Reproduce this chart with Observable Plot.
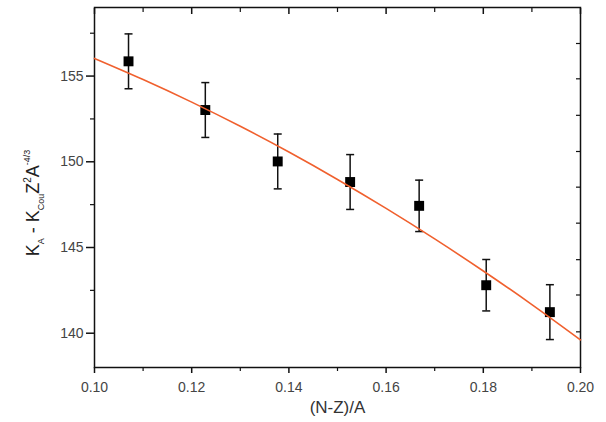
<!DOCTYPE html>
<html>
<head>
<meta charset="utf-8">
<script src="https://cdn.jsdelivr.net/npm/d3@7"></script>
<script src="https://cdn.jsdelivr.net/npm/@observablehq/plot@0.6"></script>
<style>
  html, body { margin: 0; padding: 0; background: #fff; }
  #chart svg { display: block; }
</style>
</head>
<body>
<div id="chart"></div>
<script>
// Data
const asym = [0.1070, 0.1228, 0.1377, 0.1526, 0.1668, 0.1806, 0.1937];
const kVal = [155.86, 153.02, 150.02, 148.82, 147.43, 142.80, 141.23];
const kErr = [1.6, 1.6, 1.6, 1.6, 1.5, 1.5, 1.6];

const fitX = [0.10, 0.11, 0.12, 0.13, 0.14, 0.15, 0.16, 0.17, 0.18, 0.19, 0.20];
const fitY = [156.03, 154.80, 153.48, 152.07, 150.57, 148.97, 147.28, 145.50, 143.63, 141.67, 139.61];

const xMajor = [0.10, 0.12, 0.14, 0.16, 0.18, 0.20];
const xMinor = [0.11, 0.13, 0.15, 0.17, 0.19];
const yMajor = [140, 145, 150, 155];
const yMinor = [142.5, 147.5, 152.5, 157.5];
const yRight = [140.08, 142.23, 144.29, 146.42, 148.52, 150.60, 152.71, 154.84, 156.90];

const xTitle = "(N-Z)/A";

const idx = d3.range(asym.length);
const fitIdx = d3.range(fitX.length);

const cap = { draw(ctx) { ctx.moveTo(-4, 0); ctx.lineTo(4, 0); } };
const blank = () => "";
const font = "Liberation Sans, Arial, Helvetica, sans-serif";

const chart = Plot.plot({
  width: 606,
  height: 422,
  marginLeft: 94,
  marginRight: 26,
  marginTop: 7,
  marginBottom: 55,
  style: { fontFamily: font, background: "#fff", color: "#000" },
  x: { domain: [0.10, 0.20], label: null },
  y: { domain: [138, 159], label: null },
  marks: [
    Plot.frame({ stroke: "#111", strokeWidth: 1.5 }),
    // bottom axis
    Plot.axisX(xMajor, { anchor: "bottom", tickSize: 6, tickPadding: 9, tickFormat: d3.format(".2f"),
      fontSize: 14, fill: "#444", stroke: "#111", strokeWidth: 1.5, label: null }),
    Plot.axisX(xMinor, { anchor: "bottom", tickSize: 4, tickFormat: blank, stroke: "#111", strokeWidth: 1.2, label: null }),
    // top axis (inward ticks)
    Plot.axisX(xMajor, { anchor: "top", tickSize: -6, tickFormat: blank, stroke: "#111", strokeWidth: 1.5, label: null }),
    Plot.axisX(xMinor, { anchor: "top", tickSize: -4, tickFormat: blank, stroke: "#111", strokeWidth: 1.2, label: null }),
    // left axis
    Plot.axisY(yMajor, { anchor: "left", tickSize: 8, tickPadding: 3, fontSize: 14, fill: "#444",
      stroke: "#111", strokeWidth: 1.5, label: null }),
    Plot.axisY(yMinor, { anchor: "left", tickSize: 4, tickFormat: blank, stroke: "#111", strokeWidth: 1.2, label: null }),
    // right axis (inward ticks)
    Plot.axisY(yRight, { anchor: "right", tickSize: -5, tickFormat: blank, stroke: "#111", strokeWidth: 1.2, label: null }),
    // error bars
    Plot.ruleX(idx, { x: i => asym[i], y1: i => kVal[i] - kErr[i], y2: i => kVal[i] + kErr[i], stroke: "#111", strokeWidth: 1.5 }),
    Plot.dot(idx, { x: i => asym[i], y: i => kVal[i] + kErr[i], symbol: cap, r: 4, stroke: "#111", strokeWidth: 1.5, fill: "none" }),
    Plot.dot(idx, { x: i => asym[i], y: i => kVal[i] - kErr[i], symbol: cap, r: 4, stroke: "#111", strokeWidth: 1.5, fill: "none" }),
    // squares
    Plot.dot(idx, { x: i => asym[i], y: i => kVal[i], symbol: "square", r: 5.6, fill: "#000", stroke: null }),
    // fit line
    Plot.line(fitIdx, { x: i => fitX[i], y: i => fitY[i], stroke: "#f0602e", strokeWidth: 1.6, curve: "natural" }),
    // x title
    Plot.text([xTitle], { text: d => d, frameAnchor: "bottom", dy: 45, fontSize: 17, fill: "#333" })
  ]
});

document.getElementById("chart").appendChild(chart);

// y-axis title with sub/superscripts
const svg = d3.select(chart);
const t = svg.append("text")
  .attr("transform", "translate(39,203) rotate(-90)")
  .attr("text-anchor", "middle")
  .attr("font-family", font)
  .attr("font-size", 18)
  .attr("fill", "#222");
t.append("tspan").text("K");
t.append("tspan").attr("font-size", 9).attr("dy", 5).text("A");
t.append("tspan").attr("dy", -5).text(" - K");
t.append("tspan").attr("font-size", 9).attr("dy", 5).text("Cou");
t.append("tspan").attr("dy", -5).text("Z");
t.append("tspan").attr("font-size", 10).attr("dy", -8).text("2");
t.append("tspan").attr("dy", 8).text("A");
t.append("tspan").attr("font-size", 9).attr("dy", -9).text("-4/3");
</script>
</body>
</html>
